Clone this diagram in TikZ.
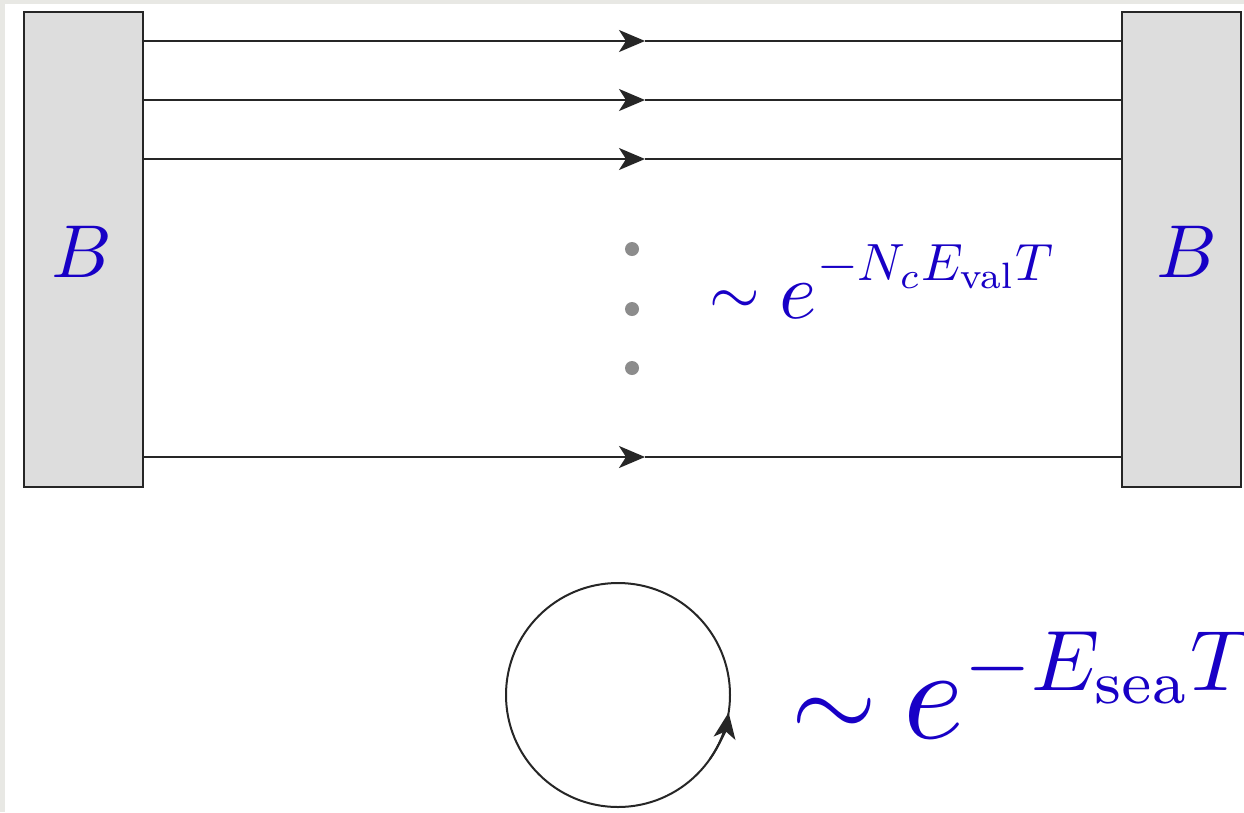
\documentclass[tikz,border=0pt]{standalone}
\usepackage{graphicx}
\usetikzlibrary{arrows.meta}
\definecolor{formblue}{RGB}{24,0,198}
\definecolor{boxgray}{RGB}{221,221,221}
\definecolor{framegray}{RGB}{232,232,228}
\begin{document}
\begin{tikzpicture}[x=1pt,y=-1pt,
  bbox/.style={draw=black!85,line width=2pt,fill=boxgray,minimum width=119pt,minimum height=475pt,inner sep=0pt},
  quark/.style={draw=black!85,line width=2pt},
  tip/.style={-{Stealth[length=26pt,width=22pt,inset=7pt]}},
  dotst/.style={circle,fill=black!45,minimum size=14pt,inner sep=0pt},
  lab/.style={text=formblue,inner sep=0pt}]
\useasboundingbox (0,0) rectangle (1244,812);
\fill[white] (0,0) rectangle (1244,812);
\fill[framegray] (0,0) rectangle (5,812);
\fill[framegray] (0,0) rectangle (1244,4);

\node[bbox] (lb) at (83,249.5) {};
\node[bbox] (rb) at (1181.5,249.5) {};
\node[lab] (bl) at (82,252) {\scalebox{7.5}{$B$}};
\node[lab] (br) at (1187,252) {\scalebox{7.5}{$B$}};

\foreach \y [count=\i] in {41,100,159,457}{
  \coordinate (s\i) at (lb.east |- 0,\y);
  \coordinate (m\i) at (645,\y);
  \coordinate (e\i) at (rb.west |- 0,\y);
  \draw[quark,tip] (s\i) -- (m\i);
  \draw[quark] (m\i) -- (e\i);
}

\node[dotst] (d1) at (632,249) {};
\node[dotst] (d2) at (632,309) {};
\node[dotst] (d3) at (632,368) {};

\node[lab,anchor=base west] (f1) at (709,318) {\raisebox{4pt}{\scalebox{6.5}{$\sim$}}\hspace{20pt}\scalebox{8}{$e^{\mbox{\raisebox{1pt}{\scalebox{0.655}{$-N_c E_{\mathrm{val}} T$}}}}$}};

\coordinate (c) at (618,695);
\draw[quark] (c) circle[radius=112];
\draw[quark,tip] (c) ++(35:112) arc[start angle=35,end angle=9,radius=112];

\node[lab,anchor=base west] (f2) at (791,738) {\scalebox{11}{$\sim$}\hspace{27pt}\scalebox{13}{$e^{\mbox{\scalebox{0.66}{$-E_{\mathrm{sea}} T$}}}$}};
\end{tikzpicture}
\end{document}
